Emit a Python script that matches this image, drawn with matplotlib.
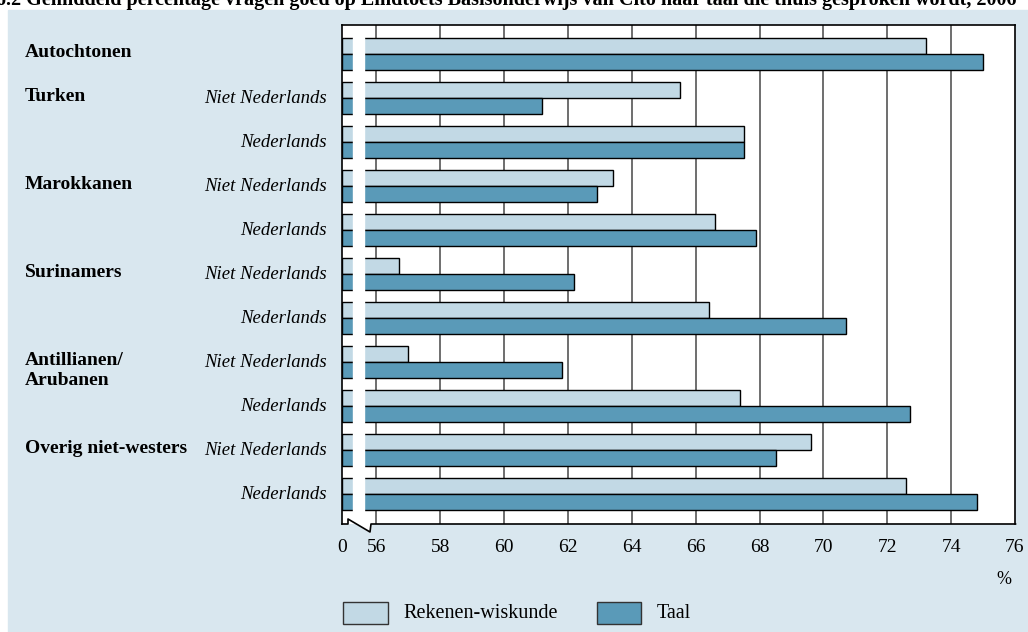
import matplotlib
matplotlib.use('Agg')
import matplotlib.pyplot as plt
import matplotlib.transforms as mtransforms
from matplotlib.patches import Rectangle, Polygon
from matplotlib.lines import Line2D
import numpy as np

# data
groups = ['Autochtonen', 'Turken', '', 'Marokkanen', '', 'Surinamers', '',
          'Antillianen/\nArubanen', '', 'Overig niet-westers', '']
sublabels = ['', 'Niet Nederlands', 'Nederlands', 'Niet Nederlands', 'Nederlands',
             'Niet Nederlands', 'Nederlands', 'Niet Nederlands', 'Nederlands',
             'Niet Nederlands', 'Nederlands']
rekenen = [73.2, 65.5, 67.5, 63.4, 66.6, 56.7, 66.4, 57.0, 67.4, 69.6, 72.6]
taal = [75.0, 61.2, 67.5, 62.9, 67.9, 62.2, 70.7, 61.8, 72.7, 68.5, 74.8]
ticks = [56, 58, 60, 62, 64, 66, 68, 70, 72, 74, 76]

W, H = 1028, 632
bg = '#d9e7ef'
c_rek = '#c2d9e5'
c_taal = '#5a9ab8'
plt.rcParams['font.family'] = ['Liberation Serif', 'DejaVu Serif']


def fx(px):
    return px / W


def fy(py):
    return 1 - py / H


fig = plt.figure(figsize=(W / 100, H / 100), dpi=100)
fig.patches.append(Rectangle((fx(8), 0), 1, fy(10), transform=fig.transFigure,
                             color=bg, zorder=-10))

ax = fig.add_axes([fx(342), fy(524), fx(1015) - fx(342), fy(24.7) - fy(524)])
ax.set_facecolor('white')

# the axis is broken: 0 sits just left of 56
x0 = 54.92
ax.set_xlim(x0, 76)
ax.set_ylim(10.68, -0.666)

y = np.arange(len(rekenen))
h = 0.364
ax.barh(y - h / 2, np.array(rekenen) - x0, left=x0, height=h, color=c_rek,
        edgecolor='black', linewidth=1, zorder=2)
ax.barh(y + h / 2, np.array(taal) - x0, left=x0, height=h, color=c_taal,
        edgecolor='black', linewidth=1, zorder=2)

for t in ticks[:-1]:
    ax.axvline(t, color='#555555', linewidth=1.2, zorder=1)

# white gap for the break
ax.axvspan(55.26, 55.61, ymin=0.01, ymax=0.975, color='white', zorder=3)

ax.set_xticks([x0] + ticks)
ax.set_xticklabels(['0'] + [str(t) for t in ticks], fontsize=14)
ax.tick_params(axis='x', length=0, pad=11)
ax.set_yticks([])
for s in ['top', 'left', 'right']:
    ax.spines[s].set_linewidth(1.2)
ax.spines['bottom'].set_visible(False)

# bottom line with break flap
fig.patches.append(Polygon([(fx(356.5), fy(524)), (fx(370), fy(532)), (fx(371), fy(524))],
                           closed=True, transform=fig.transFigure, color='white', zorder=5))
fig.lines.append(Line2D([fx(342), fx(348), fx(348), fx(370), fx(371), fx(1015.5)],
                        [fy(524), fy(524), fy(519), fy(532), fy(524), fy(524)],
                        transform=fig.transFigure, color='black', linewidth=1.2, zorder=6))

# row labels
tr = mtransforms.blended_transform_factory(fig.transFigure, ax.transData)
for i, g in enumerate(groups):
    if not g:
        continue
    if '\n' in g:
        ax.text(fx(25), i - 0.23, g, transform=tr, fontsize=14, fontweight='bold',
                ha='left', va='top', linespacing=1.2)
    else:
        ax.text(fx(25), i - 0.03, g, transform=tr, fontsize=14, fontweight='bold',
                ha='left', va='center')
for i, s in enumerate(sublabels):
    if s:
        ax.text(fx(327), i, s, transform=tr, fontsize=13.5, style='italic',
                ha='right', va='center')

fig.text(fx(1004), fy(580), '%', fontsize=13, ha='center', va='center')

# legend
fig.patches.append(Rectangle((fx(343), fy(624)), fx(388) - fx(343), fy(602) - fy(624),
                             transform=fig.transFigure, facecolor=c_rek,
                             edgecolor='#333333', linewidth=1))
fig.text(fx(403), fy(614), 'Rekenen-wiskunde', fontsize=14.5, ha='left', va='center')
fig.patches.append(Rectangle((fx(597), fy(624)), fx(641) - fx(597), fy(602) - fy(624),
                             transform=fig.transFigure, facecolor=c_taal,
                             edgecolor='#333333', linewidth=1))
fig.text(fx(657), fy(614), 'Taal', fontsize=14.5, ha='left', va='center')

# title, cut off at the top edge as in the reference
fig.text(fx(-4), fy(4.5), '6.2 Gemiddeld percentage vragen goed op Eindtoets Basisonderwijs '
         'van Cito naar taal die thuis gesproken wordt, 2006',
         fontsize=14.5, fontweight='bold', ha='left', va='baseline')

fig.savefig('out.png', dpi=100)
